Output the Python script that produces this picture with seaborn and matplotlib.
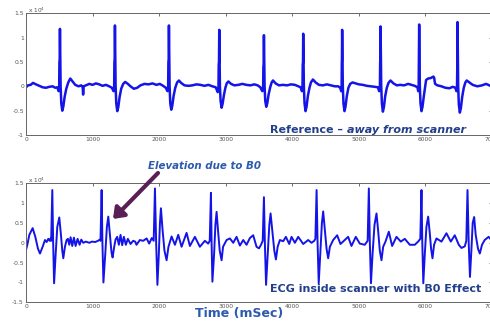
import matplotlib
matplotlib.use("Agg")
import matplotlib.pyplot as plt
import seaborn as sns
import pandas as pd
from matplotlib.patches import FancyArrowPatch, ArrowStyle

# ---------------- data (values in units of 10^4) ----------------
ref_time_ms = [
    0, 30, 70, 105, 150, 200, 250, 300, 350, 400, 440, 470, 490, 498,
    502, 506, 510, 515, 520, 530, 545, 560, 580, 605, 635, 665, 700, 740, 790, 830, 852, 858, 866,
    900, 950, 1000, 1050, 1100, 1150, 1200, 1250, 1290, 1315, 1324,
    1328, 1332, 1336, 1341, 1346, 1356, 1371, 1386, 1406, 1430, 1460, 1490, 1530, 1570, 1620, 1670,
    1720, 1780, 1840, 1900, 1960, 2010, 2060, 2100, 2125, 2135,
    2139, 2143, 2147, 2152, 2157, 2167, 2182, 2197, 2217, 2242, 2270, 2297, 2330, 2380, 2440, 2500,
    2560, 2620, 2680, 2740, 2800, 2850, 2880, 2891,
    2895, 2899, 2903, 2908, 2913, 2923, 2938, 2953, 2973, 2995, 3015, 3040, 3080, 3130, 3190, 3250,
    3310, 3370, 3430, 3480, 3520, 3550, 3562,
    3566, 3570, 3574, 3579, 3584, 3594, 3609, 3624, 3644, 3668, 3690, 3710, 3750, 3800, 3860, 3920,
    3980, 4040, 4090, 4125, 4145, 4153,
    4157, 4161, 4164, 4169, 4174, 4184, 4199, 4214, 4234, 4258, 4280, 4310, 4350, 4400, 4460, 4520,
    4580, 4640, 4690, 4720, 4735, 4741,
    4744, 4746, 4749, 4754, 4759, 4769, 4784, 4799, 4819, 4843, 4870, 4905, 4950, 5000, 5060, 5120,
    5180, 5240, 5285, 5305, 5316,
    5320, 5323, 5326, 5331, 5336, 5346, 5361, 5376, 5396, 5420, 5445, 5475, 5520, 5570, 5620, 5680,
    5740, 5790, 5840, 5880, 5892, 5898,
    5902, 5904, 5906, 5911, 5916, 5926, 5941, 5956, 5976, 5995, 6010, 6040, 6080, 6120, 6130, 6145,
    6180, 6240, 6300, 6360, 6410, 6450, 6465, 6474,
    6478, 6480, 6482, 6487, 6492, 6502, 6517, 6532, 6552, 6576, 6600, 6620, 6660, 6710, 6780, 6850,
    6910, 6960, 7000,
]
ref_value = [
    -0.02, 0.02, 0.03, 0.07, 0.04, 0.01, -0.02, -0.03, -0.01, 0.0, -0.03, -0.02, -0.10, -0.06,
    0.50, 0.55, 1.18, 0.60, 0.00, -0.35, -0.50, -0.42, -0.22, -0.05, 0.08, 0.16, 0.10, 0.03, 0.00, 0.02, -0.02, -0.17, 0.00,
    0.02, 0.05, 0.03, 0.06, 0.04, 0.01, 0.03, 0.00, -0.03, -0.10, -0.05,
    0.50, 0.55, 1.25, 0.60, 0.00, -0.35, -0.51, -0.43, -0.22, -0.05, 0.05, 0.09, 0.05, 0.00, -0.05, -0.03,
    0.02, 0.05, 0.04, 0.06, 0.03, 0.05, 0.01, -0.03, -0.10, -0.05,
    0.50, 0.55, 1.25, 0.60, 0.00, -0.35, -0.48, -0.40, -0.20, -0.03, 0.08, 0.12, 0.07, 0.02, 0.01, 0.02,
    0.04, 0.03, 0.01, 0.03, 0.00, -0.02, -0.12, -0.05,
    0.45, 0.50, 1.16, 0.55, 0.00, -0.30, -0.44, -0.36, -0.18, -0.03, 0.06, 0.10, 0.05, 0.02, 0.03, 0.05,
    0.03, 0.02, 0.04, 0.02, -0.02, -0.10, -0.04,
    0.40, 0.45, 1.05, 0.50, 0.00, -0.30, -0.42, -0.35, -0.17, -0.02, 0.08, 0.12, 0.06, 0.02, 0.03, 0.02,
    0.04, 0.03, 0.00, -0.02, -0.10, -0.05,
    0.45, 0.50, 1.08, 0.50, 0.00, -0.35, -0.51, -0.42, -0.20, -0.03, 0.08, 0.14, 0.08, 0.03, 0.02, 0.04,
    0.02, 0.00, 0.00, -0.03, -0.10, -0.05,
    0.50, 0.55, 1.16, 0.55, 0.00, -0.35, -0.51, -0.42, -0.20, -0.03, 0.05, 0.08, 0.06, 0.04, 0.03, 0.01,
    0.00, -0.01, -0.02, -0.10, -0.05,
    0.50, 0.55, 1.23, 0.60, 0.00, -0.35, -0.52, -0.43, -0.20, -0.03, 0.07, 0.12, 0.06, 0.02, 0.03, 0.02,
    0.05, 0.03, 0.01, -0.02, -0.10, -0.05,
    0.50, 0.55, 1.27, 0.60, 0.00, -0.35, -0.51, -0.42, -0.20, -0.02, 0.13, 0.16, 0.17, 0.20, 0.18, 0.05,
    0.02, 0.00, -0.03, -0.04, -0.01, -0.03, -0.10, -0.05,
    0.50, 0.55, 1.32, 0.60, 0.00, -0.38, -0.54, -0.45, -0.22, -0.03, 0.08, 0.12, 0.08, 0.03, 0.00, 0.02,
    0.05, 0.02, 0.00,
]

b0_time_ms = [
    0, 20, 50, 100, 140, 180, 210, 250, 285, 310, 335, 355, 370, 378,
    395, 408, 422, 445, 470, 500, 525, 545, 560, 585, 610, 630, 650, 670, 695, 720, 745, 775, 805, 830,
    860, 900, 950, 990, 1040, 1080, 1110, 1119,
    1136, 1148, 1163, 1190, 1215, 1236, 1260, 1285, 1301, 1325, 1345, 1370, 1395, 1420, 1445, 1470,
    1500, 1530, 1570, 1610, 1640, 1660, 1710, 1760, 1812, 1850, 1890, 1918,
    1937, 1955, 1974, 1995, 2012, 2027, 2050, 2080, 2112, 2140, 2187, 2237, 2287, 2337, 2412, 2462,
    2537, 2612, 2687, 2737, 2760,
    2778, 2788, 2800, 2825, 2845, 2863, 2885, 2910, 2938, 2960, 3013, 3063, 3113, 3163, 3213, 3263,
    3313, 3363, 3413, 3463, 3500, 3530, 3556,
    3574, 3588, 3606, 3630, 3655, 3674, 3700, 3730, 3754, 3780, 3814, 3864, 3904, 3954, 3989, 4039,
    4089, 4164, 4239, 4289, 4330, 4347,
    4365, 4380, 4397, 4420, 4445, 4464, 4490, 4515, 4539, 4565, 4614, 4674, 4724, 4789, 4839, 4889,
    4954, 5014, 5089, 5132,
    5150, 5165, 5182, 5205, 5235, 5265, 5290, 5315, 5340, 5365, 5400, 5450, 5500, 5565, 5630, 5690,
    5765, 5840, 5890, 5923,
    5941, 5953, 5968, 5990, 6015, 6041, 6065, 6085, 6106, 6130, 6166, 6241, 6316, 6381, 6441, 6501,
    6541, 6591, 6614,
    6632, 6650, 6669, 6690, 6710, 6732, 6755, 6790, 6817, 6850, 6890, 6949, 7000,
]
b0_value = [
    -0.18, -0.05, 0.20, 0.37, 0.15, -0.15, -0.27, -0.10, 0.07, 0.02, 0.10, 0.05, 0.11, 0.05,
    1.33, 0.00, -1.02, -0.30, 0.40, 0.64, 0.20, -0.20, -0.39, -0.10, 0.07, 0.10, -0.05, 0.14, -0.08, 0.13, -0.08, 0.10, -0.05, 0.08,
    0.00, 0.03, 0.00, 0.03, 0.02, 0.05, 0.08, 0.05,
    1.33, 0.00, -1.00, -0.30, 0.40, 0.66, 0.20, -0.25, -0.37, -0.10, 0.08, 0.15, -0.05, 0.20, -0.06, 0.15,
    -0.05, 0.10, -0.03, 0.05, 0.03, -0.05, 0.07, 0.05, 0.11, -0.02, 0.12, 0.05,
    1.37, 0.00, -1.06, -0.30, 0.50, 0.87, 0.35, -0.20, -0.44, -0.10, 0.16, -0.05, 0.20, -0.10, 0.25, -0.08,
    0.15, -0.10, 0.05, -0.02, 0.05,
    1.26, 0.00, -0.98, -0.30, 0.45, 0.78, 0.30, -0.20, -0.44, -0.10, 0.07, 0.11, 0.00, 0.15, -0.07, 0.07,
    -0.05, 0.12, 0.19, -0.10, -0.14, -0.05, 0.05,
    1.15, 0.00, -1.06, -0.30, 0.45, 0.74, 0.30, -0.20, -0.42, -0.10, 0.07, 0.04, 0.15, -0.03, 0.15, 0.00,
    0.15, -0.03, 0.07, 0.00, 0.05, 0.10,
    1.33, 0.00, -1.02, -0.30, 0.50, 0.79, 0.30, -0.15, -0.39, -0.10, 0.07, 0.19, -0.03, 0.07, 0.15, -0.08,
    0.15, -0.02, -0.05, 0.05,
    1.37, 0.00, -1.02, -0.30, 0.45, 0.74, 0.30, -0.20, -0.44, -0.10, 0.03, 0.28, -0.08, 0.15, 0.03, 0.10,
    -0.05, -0.05, 0.03, 0.10,
    1.33, 0.00, -1.02, -0.30, 0.40, 0.66, 0.25, -0.15, -0.39, -0.05, 0.11, 0.03, 0.24, 0.03, 0.19, -0.05,
    -0.13, -0.09, 0.05,
    1.33, 0.00, -0.86, -0.20, 0.50, 0.65, 0.20, -0.15, -0.27, -0.05, 0.07, 0.15, 0.05,
]

x_ticks = [0, 1000, 2000, 3000, 4000, 5000, 6000, 7000]
x_tick_labels = ["0", "1000", "2000", "3000", "4000", "5000", "6000", "7000"]
top_y_ticks = [-1, -0.5, 0, 0.5, 1, 1.5]
top_y_labels = ["-1", "-0.5", "0", "0.5", "1", "1.5"]
bot_y_ticks = [-1.5, -1, -0.5, 0, 0.5, 1, 1.5]
bot_y_labels = ["-1.5", "-1", "-0.5", "0", "0.5", "1", "1.5"]

ref_df = pd.DataFrame({"time": ref_time_ms, "value": ref_value})
b0_df = pd.DataFrame({"time": b0_time_ms, "value": b0_value})

# ---------------- figure ----------------
sns.set_style("white")
plt.rcParams["font.family"] = ["DejaVu Sans"]

W, H = 490, 322
fig = plt.figure(figsize=(W / 100, H / 100), dpi=100)
fig.patch.set_facecolor("white")

def fx(px):
    return px / W

def fy(py):
    return 1 - py / H

line_color = "#1414e8"
ax_top = fig.add_axes([fx(26), fy(135), fx(492) - fx(26), fy(13.3) - fy(135)])
ax_bot = fig.add_axes([fx(26), fy(302.3), fx(492) - fx(26), fy(183.3) - fy(302.3)])

sns.lineplot(data=ref_df, x="time", y="value", ax=ax_top, sort=False, estimator=None,
             color=line_color, linewidth=1.8)
sns.lineplot(data=b0_df, x="time", y="value", ax=ax_bot, sort=False, estimator=None,
             color=line_color, linewidth=1.4)

for ax, yt, yl, lim in [(ax_top, top_y_ticks, top_y_labels, (-1, 1.5)),
                        (ax_bot, bot_y_ticks, bot_y_labels, (-1.5, 1.5))]:
    ax.set_xlim(0, 7000)
    ax.set_ylim(*lim)
    ax.set_xticks(x_ticks)
    ax.set_xticklabels(x_tick_labels)
    ax.set_yticks(yt)
    ax.set_yticklabels(yl)
    ax.set_xlabel("")
    ax.set_ylabel("")
    ax.tick_params(direction="in", top=True, right=True, length=2.5, width=0.6,
                   labelsize=4.3, labelcolor="#555555", color="#555555", pad=1.5)
    for s in ax.spines.values():
        s.set_color("#666666")
        s.set_linewidth(0.7)
    ax.set_facecolor("white")

# offset labels (x 10^4)
fig.text(fx(28), fy(10), r"x 10$^4$", fontsize=4.2, color="#555555", ha="left", va="center")
fig.text(fx(28), fy(180), r"x 10$^4$", fontsize=4.2, color="#555555", ha="left", va="center")

# annotations
navy = "#233f8c"
blue2 = "#2c5aae"
renderer = fig.canvas.get_renderer()
t1 = fig.text(fx(270), fy(130), "Reference \u2013 ", fontsize=8, fontweight="bold",
              color=navy, ha="left", va="center")
bb = t1.get_window_extent(renderer=renderer)
fig.text(bb.x1 / fig.dpi / fig.get_figwidth(), fy(130), "away from scanner", fontsize=8,
         fontweight="bold", fontstyle="italic", color=navy, ha="left", va="center")

fig.text(fx(270), fy(289), "ECG inside scanner with B0 Effect", fontsize=8,
         fontweight="bold", color=navy, ha="left", va="center")
fig.text(fx(195), fy(314), "Time (mSec)", fontsize=9, fontweight="bold",
         color=blue2, ha="left", va="center")
fig.text(fx(148), fy(166), "Elevation due to B0", fontsize=7.4, fontweight="bold",
         fontstyle="italic", color=blue2, ha="left", va="center")

arrow = FancyArrowPatch(posA=(fx(158), fy(173)), posB=(fx(113), fy(219)),
                        transform=fig.transFigure,
                        arrowstyle=ArrowStyle("-|>", head_length=0.6, head_width=0.45),
                        mutation_scale=10, linewidth=3, color="#5a2056",
                        shrinkA=0, shrinkB=0)
fig.add_artist(arrow)

fig.savefig("out.png", dpi=100, facecolor="white")
